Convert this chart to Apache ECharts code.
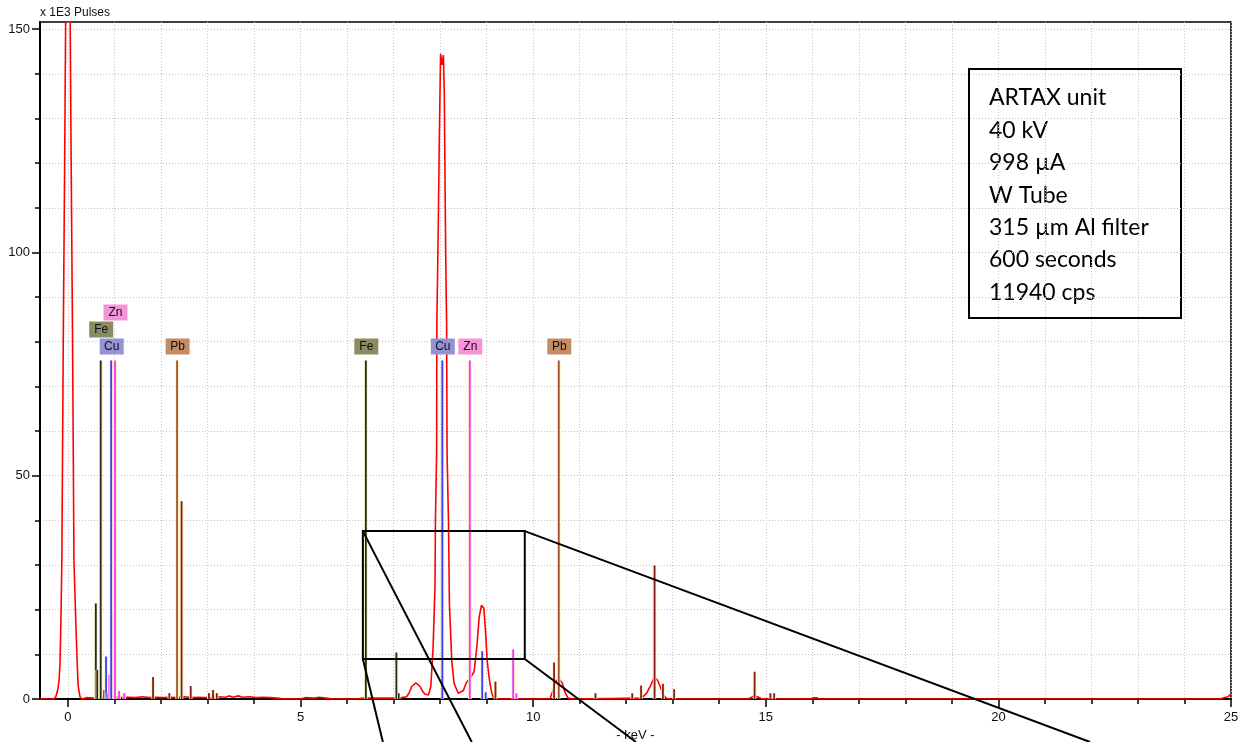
<!DOCTYPE html>
<html>
<head>
<meta charset="utf-8">
<script src="https://cdn.jsdelivr.net/npm/echarts@6/dist/echarts.min.js"></script>
<style>
  html, body { margin: 0; padding: 0; background: #fff; }
  #chart { width: 1240px; height: 742px; }
</style>
</head>
<body>
<div id="chart"></div>
<script>
// XRF spectrum: energy (keV) vs. counts (x 1000 pulses)
const spectrum = [
  [-0.6, 0], [-0.30, 0], [-0.26, 0.5], [-0.22, 2], [-0.19, 4.2], [-0.17, 8], [-0.15, 17.7], [-0.13, 31],
  [-0.10, 80], [-0.07, 120], [-0.05, 150], [0, 240], [0.05, 150], [0.07, 120], [0.10, 80], [0.13, 31],
  [0.17, 17], [0.20, 8], [0.22, 3], [0.26, 0.5], [0.30, 0],
  [0.40, 0.3], [0.55, 0.2], [0.70, 0.4], [0.85, 0.3], [1.00, 0.5], [1.15, 0.3], [1.30, 0.4], [1.45, 0.3],
  [1.60, 0.5], [1.75, 0.3], [1.90, 0.4], [2.05, 0.3], [2.20, 0.4], [2.35, 0.3], [2.50, 0.5], [2.65, 0.3],
  [2.80, 0.4], [2.95, 0.3], [3.10, 0.4], [3.25, 0.5], [3.40, 0.4], [3.46, 0.7], [3.55, 0.4], [3.66, 0.7],
  [3.75, 0.4], [3.90, 0.5], [4.05, 0.3], [4.20, 0.4], [4.35, 0.3], [4.50, 0.2], [4.65, 0], [5.00, 0],
  [5.10, 0.3], [5.30, 0.2], [5.40, 0.4], [5.55, 0.2], [5.70, 0], [6.20, 0], [6.35, 0.2], [6.60, 0.2],
  [6.90, 0.2], [7.06, 0.2], [7.18, 0.3], [7.28, 0.5], [7.34, 1.5], [7.39, 2.8], [7.48, 3.6], [7.57, 2.8],
  [7.62, 1.8], [7.67, 1.1], [7.75, 0.9], [7.80, 2.8], [7.83, 8.0], [7.85, 11.7], [7.89, 25], [7.90, 40],
  [7.925, 55], [7.93, 84], [7.96, 105], [7.98, 123], [8.01, 144.5], [8.04, 142], [8.07, 144.2], [8.09, 136],
  [8.10, 123], [8.12, 100], [8.14, 84], [8.15, 55], [8.18, 40], [8.20, 21.4], [8.25, 8.7], [8.30, 3.5],
  [8.39, 1.3], [8.43, 1.05], [8.50, 1.9], [8.56, 3.6], [8.64, 4.6], [8.73, 6.1], [8.79, 11.7], [8.84, 18.4],
  [8.89, 21.0], [8.94, 20.3], [8.98, 14.7], [9.01, 8.7], [9.06, 4.3], [9.11, 1.3], [9.16, 0],
  [10.36, 0], [10.43, 2.0], [10.49, 3.9], [10.55, 4.6], [10.63, 3.5], [10.68, 1.6], [10.75, 0.2], [10.85, 0],
  [12.33, 0.2], [12.44, 1.3], [12.53, 3.1], [12.60, 4.8], [12.67, 4.3], [12.73, 2.8], [12.80, 0.9],
  [12.87, 0.1], [12.95, 0], [14.60, 0], [14.68, 0.3], [14.75, 0.7], [14.82, 0.5], [14.90, 0.1], [15.0, 0],
  [15.95, 0], [16.02, 0.25], [16.10, 0.25], [16.15, 0], [24.75, 0], [24.85, 0.3], [24.93, 0.5], [25.0, 1.1]
];

// labelled axis values
const xMajorTicks = [0, 5, 10, 15, 20, 25];
const yMajorTicks = [0, 50, 100, 150];

// element marker lines (labelled), drawn at a common height
const markerHeight = 75.8;
const labelElements = ['Cu', 'Fe', 'Zn', 'Pb'];
const labelEnergies = [[0.930, 8.048], [0.705, 6.404], [1.012, 8.639], [2.346, 10.551]];
const labelSpanKeV = 0.52;

// secondary emission lines per element [keV, height]
const feLines = [[0.60, 21.4], [0.63, 6.5], [0.78, 2.0], [7.06, 10.4], [7.11, 1.3]];
const cuLines = [[0.82, 9.5], [0.845, 1.3], [0.946, 18.8], [8.905, 10.7], [8.98, 1.5]];
const znLines = [[0.89, 5.4], [1.10, 1.8], [1.21, 1.3], [9.57, 11.1], [9.64, 1.3]];
const pbLines = [
  [1.83, 4.9], [2.18, 1.3], [2.443, 44.3], [2.64, 2.9], [3.03, 1.3], [3.12, 2.0], [3.20, 1.3],
  [9.19, 3.9], [10.45, 8.2], [11.34, 1.3], [12.13, 1.3], [12.32, 3.0], [12.61, 29.9], [12.79, 3.4],
  [13.03, 2.2], [14.76, 6.1], [15.10, 1.3], [15.18, 1.3]
];

// magnified region and its lead lines [x0, y0, x1, y1]
const zoomBox = [[6.34, 8.95, 9.82, 37.6]];
const zoomLeads = [
  [6.34, 37.6, 8.68, -9.63],
  [6.34, 8.95, 6.77, -9.63],
  [9.82, 37.6, 21.97, -9.63],
  [9.82, 8.95, 12.21, -9.63]
];

const infoLines = ['ARTAX unit', '40 kV', '998 µA', 'W Tube', '315 µm Al filter', '600 seconds', '11940 cps'];

const lineColor = { Cu: '#3c3cff', Fe: '#2a2a1c', Zn: '#ff30ff', Pb: '#a0522d' };
const labelFill = { Cu: '#9393d3', Fe: '#8a8a63', Zn: '#f594d6', Pb: '#c48c62' };
const pbMinorColor = '#8b1a1a';
const haloColor = '#f7f2c2';

// stack labels that would overlap, lowest free row first
const labelData = [];
labelElements.forEach((el, ei) => {
  labelEnergies[ei].forEach(e => {
    let row = 0;
    while (labelData.some(d => d[2] === row && Math.abs(d[0] - e) < labelSpanKeV)) row++;
    labelData.push([e, markerHeight, row, ei]);
  });
});

function stickSeries(data, color) {
  return {
    type: 'custom', silent: true, z: 3, data: data,
    encode: { x: 0, y: 1 },
    renderItem: (params, api) => {
      const x = api.value(0), h = api.value(1);
      const p0 = api.coord([x, 0]), p1 = api.coord([x, h]);
      const shape = { x1: p0[0], y1: p0[1], x2: p1[0], y2: p1[1] };
      return {
        type: 'group', children: [
          { type: 'line', shape: shape, style: { stroke: haloColor, lineWidth: 3.5 } },
          { type: 'line', shape: shape, style: { stroke: color, lineWidth: 1.8 } }
        ]
      };
    }
  };
}

const axisFont = '"Liberation Sans", Arial, sans-serif';
const gridLine = { show: true, lineStyle: { color: '#c4c4c4', type: [1, 2], width: 1 } };

const series = [
  {
    type: 'line', data: spectrum, showSymbol: false, symbol: 'none', clip: true, z: 2, silent: true,
    lineStyle: { color: '#ff0000', width: 1.6 }
  },
  stickSeries(feLines, lineColor.Fe),
  stickSeries(cuLines, lineColor.Cu),
  stickSeries(znLines, lineColor.Zn),
  stickSeries(pbLines, pbMinorColor)
];
labelElements.forEach((el, ei) => {
  series.push(stickSeries(labelEnergies[ei].map(e => [e, markerHeight]), lineColor[el]));
});
series.push({
  type: 'custom', silent: true, z: 5, data: labelData,
  encode: { x: 0, y: 1 },
  renderItem: (params, api) => {
    const p = api.coord([api.value(0), api.value(1)]);
    const row = api.value(2), el = labelElements[api.value(3)];
    const cy = p[1] - 14 - row * 17;
    return {
      type: 'group', children: [
        { type: 'rect', shape: { x: p[0] - 11.5, y: cy - 8, width: 24, height: 16 }, style: { fill: labelFill[el] } },
        { type: 'text', style: { text: el, x: p[0] + 0.5, y: cy, align: 'center', verticalAlign: 'middle',
          font: '12px ' + axisFont, fill: '#111' } }
      ]
    };
  }
});
series.push({
  type: 'custom', silent: true, z: 10, clip: false, data: zoomBox,
  encode: { x: [0, 2], y: [1, 3] },
  renderItem: (params, api) => {
    const a = api.coord([api.value(0), api.value(1)]);
    const b = api.coord([api.value(2), api.value(3)]);
    return { type: 'rect', shape: { x: a[0], y: b[1], width: b[0] - a[0], height: a[1] - b[1] },
      style: { fill: 'none', stroke: '#000', lineWidth: 2 } };
  }
});
series.push({
  type: 'custom', silent: true, z: 10, clip: false, data: zoomLeads,
  encode: { x: [0, 2], y: [1, 3] },
  renderItem: (params, api) => {
    const a = api.coord([api.value(0), api.value(1)]);
    const b = api.coord([api.value(2), api.value(3)]);
    return { type: 'line', shape: { x1: a[0], y1: a[1], x2: b[0], y2: b[1] },
      style: { stroke: '#000', lineWidth: 2 } };
  }
});

const chart = echarts.init(document.getElementById('chart'), null, { renderer: 'canvas' });
chart.setOption({
  animation: false,
  backgroundColor: '#fff',
  grid: {
    left: 40, right: 9, top: 22, bottom: 43, containLabel: false, outerBoundsMode: 'none',
    show: true, borderColor: '#000', borderWidth: 1.5, backgroundColor: '#fff'
  },
  xAxis: {
    type: 'value', min: -0.6, max: 25,
    name: '- keV -', nameLocation: 'middle', nameGap: 29,
    nameTextStyle: { fontFamily: axisFont, fontSize: 13, color: '#111' },
    axisLine: { show: true, onZero: false, lineStyle: { color: '#000', width: 2 } },
    axisTick: { show: true, customValues: xMajorTicks, length: 8, lineStyle: { color: '#000', width: 1.5 } },
    minorTick: { show: true, splitNumber: 5, length: 5, lineStyle: { color: '#000', width: 1.5 } },
    axisLabel: {
      fontFamily: axisFont, fontSize: 13, color: '#111', margin: 12, customValues: xMajorTicks,
      formatter: v => String(Math.round(v))
    },
    splitLine: gridLine,
    minorSplitLine: gridLine
  },
  yAxis: {
    type: 'value', min: 0, max: 151.6, interval: 50,
    name: 'x 1E3 Pulses', nameLocation: 'end', nameGap: 3,
    nameTextStyle: { fontFamily: axisFont, fontSize: 12, color: '#111', align: 'left', verticalAlign: 'bottom' },
    axisLine: { show: true, onZero: false, lineStyle: { color: '#000', width: 2 } },
    axisTick: { show: true, customValues: yMajorTicks, length: 8, lineStyle: { color: '#000', width: 1.5 } },
    minorTick: { show: true, splitNumber: 5, length: 5, lineStyle: { color: '#000', width: 1.5 } },
    axisLabel: {
      fontFamily: axisFont, fontSize: 13, color: '#111', margin: 10, customValues: yMajorTicks,
      formatter: v => String(v)
    },
    splitLine: gridLine,
    minorSplitLine: gridLine
  },
  series: series,
  graphic: [{
    type: 'group', left: 968, top: 68, z: 100,
    children: [
      { type: 'rect', shape: { x: 0, y: 0, width: 212, height: 249 }, style: { fill: '#fff', stroke: '#000', lineWidth: 2 } }
    ].concat(infoLines.map((t, i) => ({
      type: 'text', x: 20, y: 29 + i * 32.4,
      style: { text: t, font: '23px Lato, "Open Sans", sans-serif', fill: '#000', verticalAlign: 'middle' }
    })))
  }]
});
</script>
</body>
</html>
